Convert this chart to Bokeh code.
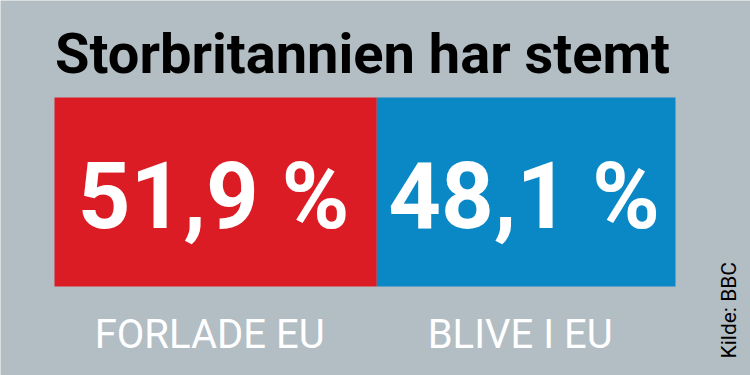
from bokeh.plotting import figure
from bokeh.models import ColumnDataSource, Range1d, Label
from bokeh.core.properties import value
from bokeh.embed import file_html
from bokeh.resources import INLINE

# ---- data ----
categories = ["FORLADE EU", "BLIVE I EU"]
shares = [51.9, 48.1]
colors = ["#dc1c24", "#0a88c6"]
title_text = "Storbritannien har stemt"
source_text = "Kilde: BBC"

# ---- layout constants ----
W, H = 750, 375
BG = "#b3bdc4"
bar_left_px, bar_right_px = 54, 675
px_per_unit = (bar_right_px - bar_left_px) / 100.0
x0 = -bar_left_px / px_per_unit
x1 = (W - bar_left_px) / px_per_unit
BASE_SHIFT = 0.32  # compensation for baseline placement, in font-size units


def sy(y_screen):
    """screen y (from top) -> data y (from bottom)"""
    return H - y_screen


def sy_text(y_baseline, size):
    return sy(y_baseline - BASE_SHIFT * size)


lefts, rights, mids = [], [], []
acc = 0.0
for s in shares:
    lefts.append(acc)
    rights.append(acc + s)
    mids.append(acc + s / 2)
    acc += s

src = ColumnDataSource(dict(
    left=lefts, right=rights, mid=mids, color=colors,
    pct=[f"{s:.1f}".replace(".", ",") + " %" for s in shares],
    cat=categories,
))

p = figure(width=W, height=H, output_backend="svg", toolbar_location=None,
           x_range=Range1d(x0, x1), y_range=Range1d(0, H))
p.xaxis.visible = False
p.yaxis.visible = False
p.min_border = 0
p.grid.visible = False
p.outline_line_color = None
p.background_fill_color = BG
p.border_fill_color = BG

# bars
p.quad(left="left", right="right", top=sy(97), bottom=sy(286),
       fill_color="color", line_color=None, source=src)

# percent labels
NUM_SIZE = 92
p.text(x="mid", y=sy_text(225, NUM_SIZE), text="pct", source=src,
       text_color="white", text_font=value("Roboto"), text_font_style="bold",
       text_font_size=f"{NUM_SIZE}px", x_offset=-2,
       text_align="center", text_baseline="alphabetic")

# category labels
CAT_SIZE = 40
p.text(x="mid", y=sy_text(347, CAT_SIZE), text="cat", source=src,
       text_color="white", text_font=value("Roboto"),
       text_font_size=f"{CAT_SIZE}px", x_offset=-6,
       text_align="center", text_baseline="alphabetic")

# title
TITLE_SIZE = 56
p.add_layout(Label(x=0.1, y=sy_text(71, TITLE_SIZE), text=title_text,
                   text_color="black", text_font="Roboto",
                   text_font_style="bold", text_font_size=f"{TITLE_SIZE}px",
                   text_align="left", text_baseline="alphabetic"))

# source (rotated)
SRC_SIZE = 21
p.add_layout(Label(x=(735 - BASE_SHIFT * SRC_SIZE - bar_left_px) / px_per_unit,
                   y=sy(358), text=source_text, angle=1.5707963,
                   text_color="black", text_font="Roboto",
                   text_font_size=f"{SRC_SIZE}px",
                   text_align="left", text_baseline="alphabetic"))

open("out.html", "w").write(file_html(p, INLINE))
